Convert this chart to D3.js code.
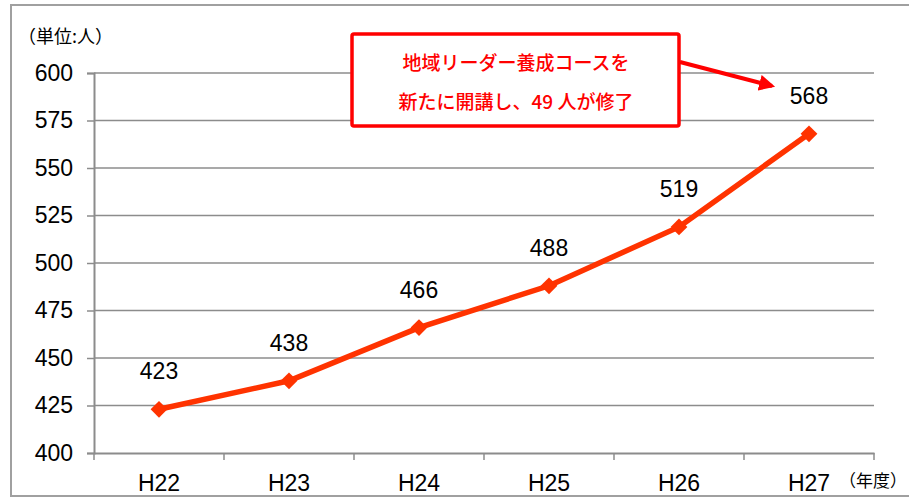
<!DOCTYPE html>
<html>
<head>
<meta charset="utf-8">
<script src="https://cdn.jsdelivr.net/npm/d3@7"></script>
<style>
  body { margin: 0; background: #fff; }
  text { font-family: "Liberation Sans", Arial, sans-serif; }
  .jp { font-family: "Noto Sans CJK JP", sans-serif; }
</style>
</head>
<body>
<svg></svg>
<script>
// chart data
var years = ["H22", "H23", "H24", "H25", "H26", "H27"];
var counts = [423, 438, 466, 488, 519, 568];
var yTicks = [400, 425, 450, 475, 500, 525, 550, 575, 600];

var width = 909, height = 499;
var margin = {left: 94, top: 73, right: 35, bottom: 46};

var svg = d3.select("svg")
    .attr("width", width)
    .attr("height", height);

// outer frame
svg.append("rect")
    .attr("x", 11).attr("y", 5)
    .attr("width", width - 8).attr("height", 491)
    .attr("fill", "none")
    .attr("stroke", "#a0a0a0")
    .attr("stroke-width", 2);

var xScale = d3.scaleBand()
    .domain(years)
    .range([margin.left, width - margin.right]);

var yScale = d3.scaleLinear()
    .domain([400, 600])
    .range([height - margin.bottom, margin.top]);

// gridlines
svg.append("g")
    .selectAll("line")
    .data(yTicks.slice(1))
    .enter()
    .append("line")
    .attr("x1", margin.left)
    .attr("x2", width - margin.right)
    .attr("y1", function(d){ return yScale(d); })
    .attr("y2", function(d){ return yScale(d); })
    .attr("stroke", "#8c8c8c")
    .attr("stroke-width", 1.5);

// y axis
var yAxis = d3.axisLeft(yScale)
    .tickValues(yTicks)
    .tickSize(7)
    .tickPadding(14);

var gy = svg.append("g")
    .attr("transform", "translate(" + margin.left + ",0)")
    .call(yAxis);
gy.select(".domain").attr("stroke", "#8c8c8c").attr("stroke-width", 2);
gy.selectAll(".tick line").attr("stroke", "#8c8c8c").attr("stroke-width", 1.5);
gy.selectAll(".tick text")
    .attr("font-size", 23)
    .attr("fill", "#000")
    .style("font-family", "Liberation Sans, Arial, sans-serif");

// x axis
var gx = svg.append("g")
    .attr("transform", "translate(0," + (height - margin.bottom) + ")")
    .call(d3.axisBottom(xScale).tickSize(0).tickPadding(22));
gx.select(".domain").attr("stroke", "#8c8c8c").attr("stroke-width", 2);
gx.selectAll(".tick text")
    .attr("font-size", 23)
    .attr("fill", "#000")
    .style("font-family", "Liberation Sans, Arial, sans-serif");

// x tick marks at band boundaries
var bounds = years.map(function(d){ return xScale(d); }).concat([xScale.range()[1]]);
svg.append("g")
    .selectAll("line")
    .data(bounds)
    .enter()
    .append("line")
    .attr("x1", function(d){ return d; })
    .attr("x2", function(d){ return d; })
    .attr("y1", height - margin.bottom)
    .attr("y2", height - margin.bottom + 7)
    .attr("stroke", "#8c8c8c")
    .attr("stroke-width", 1.5);

// series line
var pts = years.map(function(y, i){ return {year: y, value: counts[i]}; });
var cx = function(d){ return xScale(d.year) + xScale.bandwidth() / 2; };

svg.append("path")
    .datum(pts)
    .attr("fill", "none")
    .attr("stroke", "#ff3300")
    .attr("stroke-width", 5.5)
    .attr("d", d3.line().x(cx).y(function(d){ return yScale(d.value); }));

// diamond markers
svg.append("g")
    .selectAll("path")
    .data(pts)
    .enter()
    .append("path")
    .attr("d", d3.symbol().type(d3.symbolDiamond2).size(180))
    .attr("transform", function(d){ return "translate(" + cx(d) + "," + yScale(d.value) + ")"; })
    .attr("fill", "#ff3300");

// value labels
svg.append("g")
    .selectAll("text")
    .data(pts)
    .enter()
    .append("text")
    .attr("x", cx)
    .attr("y", function(d){ return yScale(d.value) - 30; })
    .attr("text-anchor", "middle")
    .attr("font-size", 23)
    .text(function(d){ return d.value; });

// unit labels
svg.append("text")
    .attr("class", "jp")
    .attr("x", 18).attr("y", 43)
    .attr("font-size", 18)
    .text("（単位:人）");

svg.append("text")
    .attr("class", "jp")
    .attr("x", 907).attr("y", 487)
    .attr("text-anchor", "end")
    .attr("font-size", 17)
    .text("（年度）");

// annotation box
svg.append("defs").append("marker")
    .attr("id", "arrow")
    .attr("viewBox", "0 0 10 10")
    .attr("refX", 8).attr("refY", 5)
    .attr("markerWidth", 4).attr("markerHeight", 4)
    .attr("orient", "auto")
    .append("path")
    .attr("d", "M0,0 L10,5 L0,10 Z")
    .attr("fill", "#ff0000");

svg.append("line")
    .attr("x1", 680).attr("y1", 62)
    .attr("x2", 772).attr("y2", 86)
    .attr("stroke", "#ff0000")
    .attr("stroke-width", 4)
    .attr("marker-end", "url(#arrow)");

svg.append("rect")
    .attr("x", 352).attr("y", 34)
    .attr("width", 327).attr("height", 92)
    .attr("rx", 2)
    .attr("fill", "#fff")
    .attr("stroke", "#ff0000")
    .attr("stroke-width", 3.5);

svg.append("text")
    .attr("class", "jp")
    .attr("x", 516).attr("y", 70)
    .attr("text-anchor", "middle")
    .attr("font-size", 19)
    .attr("font-weight", 500)
    .attr("fill", "#ff0000")
    .text("地域リーダー養成コースを");

svg.append("text")
    .attr("class", "jp")
    .attr("x", 516).attr("y", 109)
    .attr("text-anchor", "middle")
    .attr("font-size", 19)
    .attr("font-weight", 500)
    .attr("fill", "#ff0000")
    .text("新たに開講し、49 人が修了");
</script>
</body>
</html>
